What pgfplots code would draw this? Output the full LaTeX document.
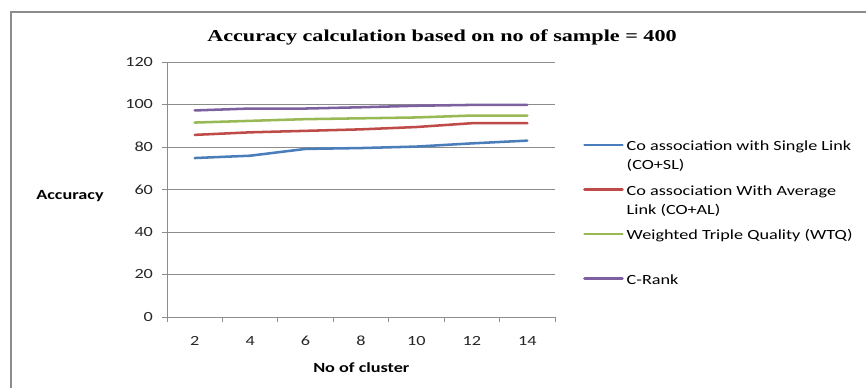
\documentclass[border=0pt]{standalone}
\usepackage{pgfplots}
\pgfplotsset{compat=1.18}
\usepackage{fontspec}
\setmainfont{Carlito}[FakeStretch=1.3]
\newfontfamily\titlefont{Liberation Serif}[FakeStretch=1.33]
\definecolor{cBlue}{HTML}{4A7EBB}
\definecolor{cRed}{HTML}{BE4B48}
\definecolor{cGreen}{HTML}{98B954}
\definecolor{cPurple}{HTML}{7D60A0}
\definecolor{cGrid}{HTML}{8C8C8C}
\begin{document}
\begin{tikzpicture}[x=1pt,y=1pt]
\useasboundingbox (0,0) rectangle (649.5,291);
\draw[cGrid, line width=0.9pt] (8.25,0) -- (8.25,282) -- (649.5,282);
\node[font=\titlefont\bfseries\fontsize{12.5pt}{15pt}\selectfont] at (331.5,263) {Accuracy calculation based on no of sample = 400};
\node[font=\bfseries\fontsize{10.5pt}{12.6pt}\selectfont] at (52.5,144.2) {Accuracy};
\node[font=\bfseries\fontsize{10.5pt}{12.6pt}\selectfont] at (271,15.5) {No of cluster};
\begin{axis}[
  at={(125.25pt,53.25pt)}, anchor=south west,
  scale only axis, width=291pt, height=191.25pt,
  xmin=1, xmax=15, ymin=0, ymax=120,
  xtick={1,3,...,15}, x tick label as interval,
  xticklabels={2,4,6,8,10,12,14},
  ytick={0,20,...,120},
  axis x line*=bottom, axis y line*=left,
  axis line style={cGrid, line width=0.6pt, -},
  ymajorgrids, grid style={cGrid, line width=0.6pt},
  major tick length=4pt,
  tick style={cGrid, line width=0.6pt},
  tick align=outside,
  xtick pos=bottom, ytick pos=left,
  ticklabel style={font=\fontsize{10.5pt}{12.6pt}\selectfont, text=black!85},
  /pgf/number format/assume math mode=true,
  yticklabel style={xshift=-3pt},
  xticklabel style={yshift=-6pt, text height=7.5pt, text depth=0pt},
  clip=false,
  legend style={at={(1.072,0.715)}, anchor=north west, draw=none, fill=none,
    inner sep=0pt,
    font=\fontsize{10.5pt}{14.25pt}\selectfont,
    row sep=4.5pt, column sep=0.75pt,
    nodes={align=left, anchor=north west, inner sep=1.5pt}},
  legend cell align=left,
  legend image code/.code={\draw[#1, line width=1.9pt] (0pt,-7.5pt) -- (28.5pt,-7.5pt);},
  every axis plot/.append style={line width=1.9pt, line join=round, line cap=round},
]
\addplot[cBlue] coordinates {(2,74.8) (4,75.9) (6,79.1) (8,79.5) (10,80.2) (12,81.7) (14,83.0)};
\addlegendentry{\strut Co association with Single Link\\(CO+SL)\strut}
\addplot[cRed] coordinates {(2,85.7) (4,86.9) (6,87.6) (8,88.3) (10,89.4) (12,91.2) (14,91.2)};
\addlegendentry{\strut Co association With Average\\Link (CO+AL)\strut}
\addplot[cGreen] coordinates {(2,91.5) (4,92.3) (6,93.1) (8,93.5) (10,93.9) (12,94.8) (14,94.8)};
\addlegendentry{\strut Weighted Triple Quality (WTQ)\\\strut}
\addplot[cPurple] coordinates {(2,97.2) (4,98.1) (6,98.1) (8,98.7) (10,99.4) (12,99.8) (14,99.8)};
\addlegendentry{\strut C-Rank\\\strut}
\end{axis}
\end{tikzpicture}
\end{document}
